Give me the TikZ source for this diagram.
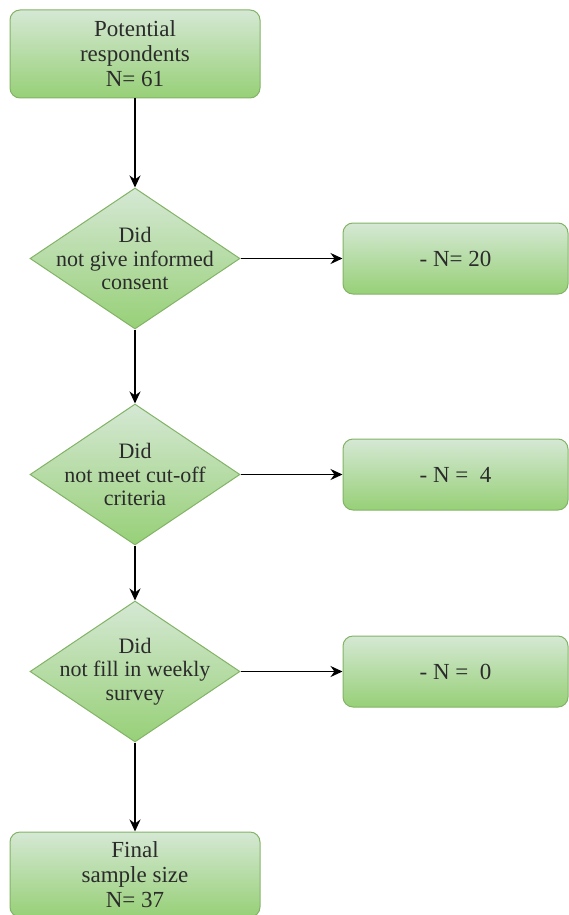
\documentclass[tikz,border=0pt]{standalone}
\usepackage{fontspec}
\setmainfont{Liberation Serif}
\newfontfamily\diagfont{Liberation Serif}
\usetikzlibrary{arrows.meta,positioning,shapes.geometric}
\definecolor{boxtop}{HTML}{D5E8D4}
\definecolor{boxbot}{HTML}{97D077}
\definecolor{boxline}{HTML}{82B366}
\definecolor{txt}{HTML}{2B2B2B}

\begin{document}
\begin{tikzpicture}[
  x=1pt, y=1pt,
  box/.style={draw=boxline, line width=1pt, rounded corners=10pt, top color=boxtop, bottom color=boxbot, align=center, text=txt, inner sep=0pt, font=\diagfont\fontsize{23}{25}\selectfont},
  check/.style={diamond, draw=boxline, line width=1pt, top color=boxtop, bottom color=boxbot, align=center, text=txt, inner sep=-20pt, aspect=1.5, minimum width=210pt, minimum height=141pt, font=\diagfont\fontsize{22}{23.5}\selectfont},
  drop/.style={box, minimum width=225pt, minimum height=71pt},
  >={Stealth[length=12pt, width=11pt]}
]
\useasboundingbox (0,0) rectangle (568,-915);

\node[box, minimum width=250pt, minimum height=88pt] (start) at (135,-54) {Potential\\respondents\\N= 61};
\node[check, below=89pt of start] (q1) {Did\\not give informed\\consent};
\node[check, below=74pt of q1] (q2) {Did\\not meet cut-off\\criteria};
\node[check, below=55pt of q2] (q3) {Did\\not fill in weekly\\survey};
\node[box, below=89pt of q3, minimum width=250pt, minimum height=85pt] (final) {Final\\sample size\\N= 37};

\node[drop, right=102pt of q1] (r1) {- N= 20};
\node[drop, right=102pt of q2] (r2) {- N =\ \ 4};
\node[drop, right=102pt of q3] (r3) {- N =\ \ 0};

\draw[->, line width=1.5pt] (start) -- (q1);
\draw[->, line width=1.5pt] (q1) -- (q2);
\draw[->, line width=1.5pt] (q2) -- (q3);
\draw[->, line width=1.5pt] (q3) -- (final);

\draw[->, line width=1.5pt] (q1) -- (r1);
\draw[->, line width=1.5pt] (q2) -- (r2);
\draw[->, line width=1.5pt] (q3) -- (r3);
\end{tikzpicture}
\end{document}
